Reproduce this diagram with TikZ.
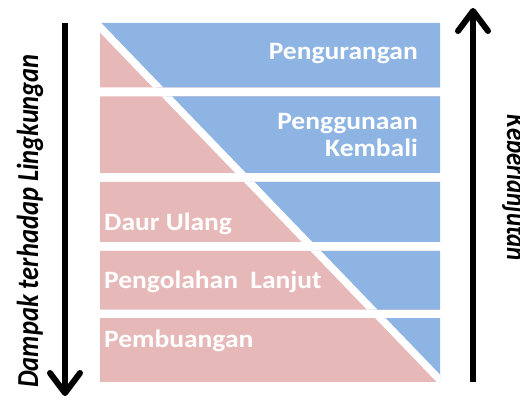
\documentclass[tikz,border=0pt]{standalone}
\usepackage{fontspec}
\setmainfont{Carlito}
\usetikzlibrary{arrows.meta}
\definecolor{pinkf}{RGB}{230,185,184}
\definecolor{bluef}{RGB}{142,180,227}
\newcommand{\hstretch}[1]{\scalebox{1.1}[1]{#1}}
\begin{document}
\begin{tikzpicture}[x=1pt,y=-1pt,
  lbl/.style={text=white,font=\fontsize{25}{27}\selectfont\bfseries,inner sep=0pt},
  side/.style={font=\fontsize{26.5}{30}\selectfont\bfseries\itshape,inner sep=0pt},
  bigarrow/.style={line width=6pt,-{Straight Barb[length=20pt,width=30pt,line cap=round,line join=round]}}]
\useasboundingbox (0,0) rectangle (520,401);
\begin{scope}
  \clip (100,23) rectangle (440,87.5)
        (100,96.5) rectangle (440,173)
        (100,182) rectangle (440,242)
        (100,251) rectangle (440,309.5)
        (100,318) rectangle (440,382);
  \fill[pinkf] (100,23) rectangle (440,382);
  \fill[bluef] (86,12.6) -- (451,391.4) -- (451,12.6) -- cycle;
  \coordinate (d1) at (86,12.6);
  \coordinate (d2) at (451,391.4);
  \draw[white,line width=7.5pt] (d1) -- (d2);
\end{scope}
\node[lbl,anchor=base east] (t1) at (418,60) {\hstretch{Pengurangan}};
\node[lbl,anchor=north east,align=right] (t2) at (418,113) {\hstretch{Penggunaan}\\\hstretch{Kembali}};
\node[lbl,anchor=base west] (t3) at (104,230) {\hstretch{Daur Ulang}};
\node[lbl,anchor=base west] (t4) at (104,288) {\hstretch{Pengolahan\ \ Lanjut}};
\node[lbl,anchor=base west] (t5) at (104,347) {\hstretch{Pembuangan}};
\coordinate (a1) at (65,23);
\coordinate (a2) at (65,396);
\draw[bigarrow] (a1) -- (a2);
\coordinate (b1) at (473,382);
\coordinate (b2) at (473,8);
\draw[bigarrow] (b1) -- (b2);
\node[side,rotate=90,anchor=base] (s1) at (38,221) {\scalebox{1}[1.15]{Dampak terhadap Lingkungan}};
\node[side,rotate=-90,anchor=base] (s2) at (507,188) {\scalebox{0.94}[1.1]{Keberlanjutan}};
\end{tikzpicture}
\end{document}
